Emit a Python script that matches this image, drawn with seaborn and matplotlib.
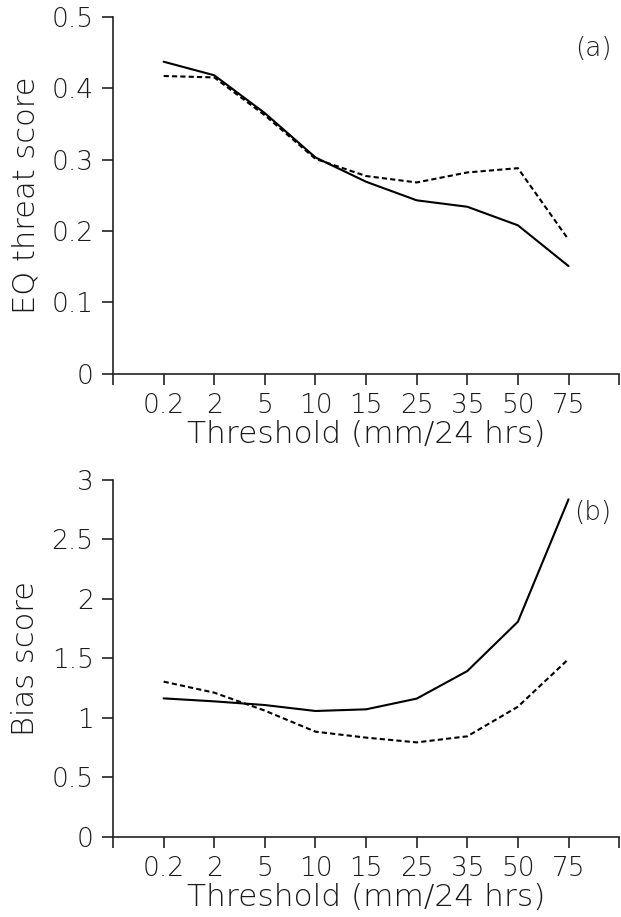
import numpy as np
import pandas as pd
import matplotlib
matplotlib.use("Agg")
import matplotlib.pyplot as plt
import seaborn as sns

thresholds = ["0.2", "2", "5", "10", "15", "25", "35", "50", "75"]
ets_solid = [0.437, 0.418, 0.365, 0.303, 0.269, 0.243, 0.234, 0.208, 0.151]
ets_dashed = [0.417, 0.415, 0.362, 0.301, 0.277, 0.268, 0.282, 0.288, 0.188]
bias_solid = [1.163, 1.138, 1.107, 1.057, 1.071, 1.161, 1.393, 1.808, 2.837]
bias_dashed = [1.304, 1.211, 1.060, 0.883, 0.833, 0.793, 0.844, 1.093, 1.494]
series_names = ["solid", "dashed"]

sns.set_theme(style="white")
plt.rcParams['font.family'] = ['DejaVu Sans']
plt.rcParams['font.weight'] = 'light'
plt.rcParams['axes.labelweight'] = 'light'
text_color = "#1a1a1a"

fig = plt.figure(figsize=(6.21, 9.17), dpi=100)
ax1 = fig.add_axes([0.182, 0.5922, 0.815, 0.3896])
ax2 = fig.add_axes([0.182, 0.0876, 0.815, 0.389])

pos = np.arange(1, len(thresholds) + 1)

def make_df(a, b):
    return pd.DataFrame({
        "x": np.concatenate([pos, pos]),
        "y": np.concatenate([a, b]),
        "series": [series_names[0]] * len(a) + [series_names[1]] * len(b),
    })

panels = [
    (ax1, make_df(ets_solid, ets_dashed), "EQ threat score", (0, 0.5), np.arange(0, 0.51, 0.1), ["0", "0.1", "0.2", "0.3", "0.4", "0.5"], "(a)"),
    (ax2, make_df(bias_solid, bias_dashed), "Bias score", (0, 3), np.arange(0, 3.01, 0.5), ["0", "0.5", "1", "1.5", "2", "2.5", "3"], "(b)"),
]

for ax, df, ylab, ylim, yt, ytl, tag in panels:
    sns.lineplot(data=df, x="x", y="y", style="series", style_order=series_names,
                 dashes={"solid": "", "dashed": (2.5, 1.5)}, color="black",
                 linewidth=1.5, legend=False, ax=ax, estimator=None)
    ax.set_xlim(0, len(thresholds) + 1)
    ax.set_ylim(*ylim)
    ax.set_xticks(np.arange(0, len(thresholds) + 2))
    ax.set_xticklabels([""] + thresholds + [""], fontweight='light')
    ax.set_yticks(yt)
    ax.set_yticklabels(ytl, fontweight='light')
    for s in ["top", "right"]:
        ax.spines[s].set_visible(False)
    for s in ["left", "bottom"]:
        ax.spines[s].set_color("#222222")
        ax.spines[s].set_linewidth(1.2)
    ax.tick_params(axis="both", which="major", direction="out", length=8, width=1.2,
                   color="#222222", labelsize=19, labelcolor=text_color, pad=6,
                   left=True, bottom=True)
    ax.set_xlabel("Threshold (mm/24 hrs)", fontsize=22.5, color=text_color, labelpad=1,
                  fontweight='light')
    ax.set_ylabel(ylab, fontsize=22, color=text_color, labelpad=8, fontweight='light')
    ax.text(0.985, 0.91, tag, transform=ax.transAxes, ha="right", va="center",
            fontsize=19, color=text_color, fontweight='light')
    ax.set_facecolor("white")

fig.savefig("out.png", dpi=100, facecolor="white")
